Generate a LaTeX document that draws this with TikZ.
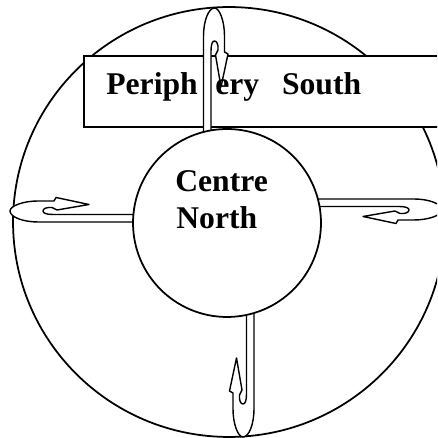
\documentclass[tikz,border=0pt]{standalone}
\usepackage{fontspec}
\setmainfont{Liberation Serif}
\usetikzlibrary{positioning,shapes.geometric}

\begin{document}
\begin{tikzpicture}[
  x=0.02cm,y=0.02cm,
  rim/.style={ellipse,draw,line width=1pt,minimum width=8.64cm,minimum height=8.6cm,inner sep=0pt},
  hub/.style={circle,draw,fill=white,line width=1pt,minimum size=3.76cm,inner sep=0pt},
  band/.style={draw,fill=white,line width=1pt,minimum width=7.36cm,minimum height=1.42cm,inner sep=0pt},
  lab/.style={font=\bfseries\fontsize{18}{21}\selectfont,inner sep=0pt},
  turn/.pic={
    \draw[line width=0.8pt,fill=white,line join=round]
      (3.5,-6) -- (3.5,80)
      .. controls (3.5,87) and (5,90) .. (7,90)
      .. controls (9.5,90) and (11,86) .. (10.5,81)
      -- (8,76) -- (13.5,44) -- (20.5,77) -- (17,79) -- (17,95)
      .. controls (17,110) and (12,123) .. (7,123)
      .. controls (1,123) and (-4,110) .. (-4,95)
      -- (-4,-6) -- cycle;
  }
]

\useasboundingbox (0,0) rectangle (437,438);
\clip (0,0) rectangle (437,438);

% ---------------- outer ring and band ----------------
\node[rim] (outer) at (229,216) {};
\node[band] (strip) at (268,346.5) {};

% ---------------- hairpin arrows ----------------
\coordinate (tN) at (207.5,307);
\coordinate (tE) at (319,235);
\coordinate (tS) at (250,124);
\coordinate (tW) at (133,220);

\pic[rotate=0] at (tN) {turn};
\pic[rotate=-90] at (tE) {turn};
\pic[rotate=180] at (tS) {turn};
\pic[rotate=90] at (tW) {turn};

% ---------------- centre ----------------
\node[hub] (centre) at (227,215) {};

% labels
\node[lab, anchor=base west] (periph) at (106,343) {Periph};
\node[lab, anchor=base west] (south) at (215,343) {ery\hspace{13pt}South};
\node[lab, anchor=base west] (cname) at (175,246) {Centre};
\node[lab, anchor=base west] (nname) at (176,209) {North};

\end{tikzpicture}
\end{document}
